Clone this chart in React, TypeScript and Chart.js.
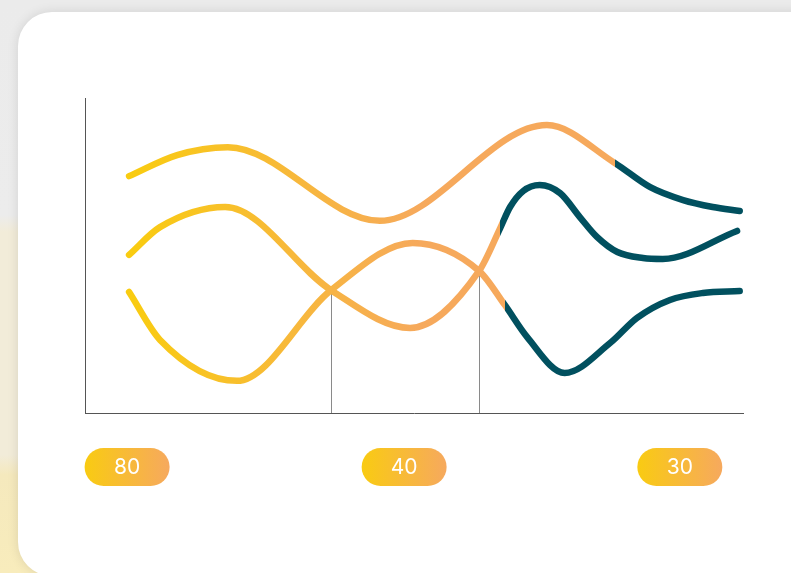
import React, { useEffect, useRef } from "react";
import { Chart, registerables } from "chart.js";

Chart.register(...registerables);

// ---- data ----
const seriesAX = [6.7, 14.0, 21.7, 44.8, 70.2, 80.5, 85.9, 90.9, 95.4, 99.5];
const seriesAY = [75.2, 81.9, 84.4, 61.0, 91.4, 79.4, 71.7, 67.6, 65.4, 64.1];

const seriesBX = [6.7, 11.4, 21.3, 37.4, 49.4, 59.9, 63.1, 64.6, 66.6, 69.1, 72.2, 75.2, 77.8, 80.9, 84.8, 87.8, 99.1];
const seriesBY = [50.2, 59.0, 65.4, 39.0, 27.0, 45.1, 58.7, 65.4, 70.5, 72.4, 69.8, 62.2, 55.9, 51.1, 49.2, 48.9, 57.8];

const seriesCX = [6.7, 11.4, 23.1, 37.4, 49.8, 59.9, 63.8, 67.2, 72.9, 79.8, 83.9, 88.9, 93.9, 99.5];
const seriesCY = [38.4, 23.2, 10.2, 39.0, 54.0, 45.1, 34.3, 24.1, 12.7, 22.2, 30.2, 35.9, 38.1, 38.7];

// x value where each series turns dark
const darkFromX = [80.5, 63.1, 63.8];

// crossing markers (drop lines)
const markerX = [37.4, 59.9];
const markerY = [39.0, 45.1];

// bottom pill labels
const pillLabels = ["80", "40", "30"];
const pillX = [6.4, 48.5, 90.4];

const YELLOW = "#F9CC10";
const ORANGE = "#F6A95C";
const TEAL = "#01505F";

function toPoints(xs: number[], ys: number[]) {
  return xs.map((x, i) => ({ x, y: ys[i] }));
}

export default function App() {
  const canvasRef = useRef<HTMLCanvasElement | null>(null);

  useEffect(() => {
    const canvas = canvasRef.current;
    if (!canvas) return;

    const lineColor = (ctx: any) => {
      const chart = ctx.chart;
      const area = chart.chartArea;
      if (!area) return YELLOW;
      const xs = chart.scales.x;
      const w = area.right - area.left;
      const frac = (v: number) => Math.min(1, Math.max(0, (xs.getPixelForValue(v) - area.left) / w));
      const sw = frac(darkFromX[ctx.datasetIndex] ?? 200);
      const g = chart.ctx.createLinearGradient(area.left, 0, area.right, 0);
      const f1 = frac(6.7);
      const f2 = Math.min(frac(51), sw);
      g.addColorStop(0, YELLOW);
      g.addColorStop(f1, YELLOW);
      g.addColorStop(f2, ORANGE);
      g.addColorStop(sw, ORANGE);
      g.addColorStop(Math.min(1, sw + 0.0001), TEAL);
      g.addColorStop(1, TEAL);
      return g;
    };

    const dropLines = {
      id: "dropLines",
      beforeDatasetsDraw(chart: any) {
        const { ctx, chartArea, scales } = chart;
        ctx.save();
        ctx.strokeStyle = "#8a8a8a";
        ctx.lineWidth = 1;
        markerX.forEach((mx, i) => {
          const px = Math.round(scales.x.getPixelForValue(mx)) + 0.5;
          const py = scales.y.getPixelForValue(markerY[i]);
          ctx.beginPath();
          ctx.moveTo(px, py);
          ctx.lineTo(px, chartArea.bottom);
          ctx.stroke();
        });
        ctx.restore();
      },
    };

    const pills = {
      id: "pills",
      afterDraw(chart: any) {
        const { ctx, chartArea, scales } = chart;
        const w = 85;
        const h = 38;
        const cy = chartArea.bottom + 54;
        ctx.save();
        pillLabels.forEach((label, i) => {
          const cx = scales.x.getPixelForValue(pillX[i]);
          const x0 = cx - w / 2;
          const y0 = cy - h / 2;
          const g = ctx.createLinearGradient(x0, 0, x0 + w, 0);
          g.addColorStop(0, "#F9CB12");
          g.addColorStop(1, "#F6A95E");
          ctx.fillStyle = g;
          ctx.beginPath();
          ctx.roundRect(x0, y0, w, h, h / 2);
          ctx.fill();
          ctx.fillStyle = "#ffffff";
          ctx.font = "400 21px Inter, 'Open Sans', sans-serif";
          ctx.textAlign = "center";
          ctx.textBaseline = "middle";
          ctx.fillText(label, cx, cy + 1);
        });
        ctx.restore();
      },
    };

    const mkDataset = (xs: number[], ys: number[]) => ({
      data: toPoints(xs, ys),
      borderColor: lineColor,
      borderWidth: 6.5,
      borderCapStyle: "round" as const,
      borderJoinStyle: "round" as const,
      pointRadius: 0,
      fill: false,
      cubicInterpolationMode: "monotone" as const,
    });

    const chart = new Chart(canvas, {
      type: "line",
      data: {
        datasets: [
          mkDataset(seriesAX, seriesAY),
          mkDataset(seriesBX, seriesBY),
          mkDataset(seriesCX, seriesCY),
        ],
      },
      options: {
        responsive: false,
        animation: false,
        events: [],
        layout: { padding: { left: 85, right: 48, top: 98, bottom: 160 } },
        plugins: { legend: { display: false }, tooltip: { enabled: false } },
        scales: {
          x: {
            type: "linear",
            min: 0,
            max: 100,
            grid: { display: false, drawTicks: false },
            ticks: { display: false },
            border: { display: true, color: "#555555", width: 1 },
          },
          y: {
            type: "linear",
            min: 0,
            max: 100,
            grid: { display: false, drawTicks: false },
            ticks: { display: false },
            border: { display: true, color: "#555555", width: 1 },
          },
        },
      },
      plugins: [dropLines, pills],
    });

    return () => chart.destroy();
  }, []);

  return (
    <div
      style={{
        position: "fixed",
        left: 0,
        top: 0,
        width: 791,
        height: 573,
        overflow: "hidden",
        background:
          "linear-gradient(180deg, #ebebeb 0px, #ececec 215px, #f2ecd9 232px, #f2ecd9 455px, #f5e9bd 475px, #f8ecbc 573px)",
      }}
    >
      <div
        style={{
          position: "absolute",
          left: 18,
          top: 12,
          width: 820,
          height: 564,
          borderRadius: 34,
          background: "#ffffff",
          boxShadow: "0 0 12px rgba(0,0,0,0.11)",
        }}
      />
      <canvas
        ref={canvasRef}
        width={791}
        height={573}
        style={{ position: "absolute", left: 0, top: 0, width: 791, height: 573 }}
      />
    </div>
  );
}
